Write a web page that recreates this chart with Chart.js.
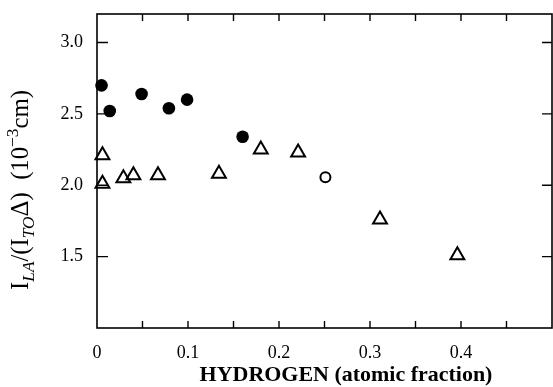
<!DOCTYPE html>
<html><head><meta charset="utf-8">
<script src="https://cdn.jsdelivr.net/npm/chart.js@4"></script>
<style>html,body{margin:0;padding:0;background:#fff}canvas{display:block}</style>
</head><body><canvas id="c" width="553" height="387"></canvas>
<script>
// ---- data ----
const filledX = [0.005, 0.014, 0.049, 0.079, 0.099, 0.160];
const filledY = [2.70, 2.52, 2.64, 2.54, 2.60, 2.34];
const triX = [0.006, 0.006, 0.029, 0.040, 0.067, 0.134, 0.180, 0.221, 0.311, 0.396];
const triY = [2.21, 2.01, 2.05, 2.07, 2.07, 2.08, 2.25, 2.23, 1.76, 1.51];
const openX = [0.251];
const openY = [2.056];
const xTicks = [0, 0.1, 0.2, 0.3, 0.4];
const xTickLabels = ['0', '0.1', '0.2', '0.3', '0.4'];
const xMarks = [0.05, 0.1, 0.15, 0.2, 0.25, 0.3, 0.35, 0.4, 0.45];
const yTicks = [1.5, 2.0, 2.5, 3.0];
const yTickLabels = ['1.5', '2.0', '2.5', '3.0'];
const xTitle = 'HYDROGEN (atomic fraction)';

const pts = (xs, ys) => xs.map((x, i) => ({x: x, y: ys[i]}));
const SERIF = '"Liberation Serif", "DejaVu Serif", serif';

const framePlugin = {
  id: 'frame',
  afterDraw(chart) {
    const ctx = chart.ctx;
    const a = chart.chartArea;
    const xs = chart.scales.x, ys = chart.scales.y;
    ctx.save();
    ctx.strokeStyle = '#000';
    ctx.lineWidth = 1.6;
    ctx.strokeRect(a.left, a.top, a.right - a.left, a.bottom - a.top);
    ctx.lineWidth = 1.4;
    ctx.beginPath();
    xMarks.forEach(v => {
      const px = xs.getPixelForValue(v);
      ctx.moveTo(px, a.bottom); ctx.lineTo(px, a.bottom - 7);
      ctx.moveTo(px, a.top); ctx.lineTo(px, a.top + 7);
    });
    yTicks.forEach(v => {
      const py = ys.getPixelForValue(v);
      ctx.moveTo(a.left, py); ctx.lineTo(a.left + 11, py);
      ctx.moveTo(a.right, py); ctx.lineTo(a.right - 10, py);
    });
    ctx.stroke();

    // x title
    ctx.fillStyle = '#000';
    ctx.font = 'bold 17px ' + SERIF;
    let w = ctx.measureText(xTitle).width;
    const fs = 17 * 293 / w;
    ctx.font = 'bold ' + fs.toFixed(2) + 'px ' + SERIF;
    ctx.textBaseline = 'alphabetic';
    ctx.textAlign = 'center';
    ctx.fillText(xTitle, 346, 381);

    // y title (rotated) with sub/superscripts, scaled to the reference length
    const base = [
      {t: 'I', s: 1, it: false, dy: 0},
      {t: 'LA', s: 0.7, it: true, dy: 0.25},
      {t: '/(I', s: 1, it: false, dy: 0},
      {t: 'TO', s: 0.7, it: true, dy: 0.25},
      {t: '\u0394)', s: 1, it: false, dy: 0},
      {t: '  (10', s: 1, it: false, dy: 0},
      {t: '\u22123', s: 0.7, it: false, dy: -0.42},
      {t: 'cm)', s: 1, it: false, dy: 0}
    ];
    const measure = (F) => {
      let tot = 0;
      base.forEach(p => {
        ctx.font = (p.it ? 'italic ' : '') + (F * p.s).toFixed(2) + 'px ' + SERIF;
        p.w = ctx.measureText(p.t).width; tot += p.w;
      });
      return tot;
    };
    let F = 17;
    F = F * 200 / measure(F);
    const total = measure(F);
    ctx.translate(28, 190);
    ctx.rotate(-Math.PI / 2);
    ctx.textAlign = 'left';
    let cx = -total / 2;
    base.forEach(p => {
      ctx.font = (p.it ? 'italic ' : '') + (F * p.s).toFixed(2) + 'px ' + SERIF;
      ctx.fillText(p.t, cx, p.dy * F);
      cx += p.w;
    });
    ctx.restore();
  }
};

new Chart(document.getElementById('c'), {
  type: 'scatter',
  data: {
    datasets: [
      {label: 'filled', data: pts(filledX, filledY), pointStyle: 'circle', pointRadius: 6.3,
       backgroundColor: '#000', borderColor: '#000', borderWidth: 0, clip: false},
      {label: 'triangles', data: pts(triX, triY), pointStyle: 'triangle', pointRadius: 8,
       backgroundColor: 'rgba(255,255,255,0)', borderColor: '#000', borderWidth: 2, clip: false},
      {label: 'open', data: pts(openX, openY), pointStyle: 'circle', pointRadius: 5,
       backgroundColor: 'rgba(255,255,255,0)', borderColor: '#000', borderWidth: 2, clip: false}
    ]
  },
  options: {
    responsive: false,
    animation: false,
    events: [],
    layout: {autoPadding: false, padding: {left: 0, right: 1, top: 14, bottom: 0}},
    plugins: {legend: {display: false}, tooltip: {enabled: false}},
    scales: {
      x: {
        type: 'linear', min: 0, max: 0.5,
        afterBuildTicks: s => { s.ticks = xTicks.map(v => ({value: v})); },
        afterFit: s => { s.height = 59; s.paddingLeft = 0; s.paddingRight = 0; },
        grid: {display: false},
        border: {display: false},
        ticks: {
          color: '#000', font: {family: SERIF, size: 18}, padding: 6, maxRotation: 0, autoSkip: false,
          callback: (v) => { const i = xTicks.indexOf(v); return i >= 0 ? xTickLabels[i] : ''; }
        }
      },
      y: {
        type: 'linear', min: 1.0, max: 3.2,
        afterBuildTicks: s => { s.ticks = yTicks.map(v => ({value: v})); },
        afterFit: s => { s.width = 97; s.paddingTop = 0; s.paddingBottom = 0; },
        grid: {display: false},
        border: {display: false},
        ticks: {
          color: '#000', font: {family: SERIF, size: 18}, padding: 6, autoSkip: false,
          callback: (v) => { const i = yTicks.indexOf(v); return i >= 0 ? yTickLabels[i] : ''; }
        }
      }
    }
  },
  plugins: [framePlugin]
});
</script>
</body></html>
